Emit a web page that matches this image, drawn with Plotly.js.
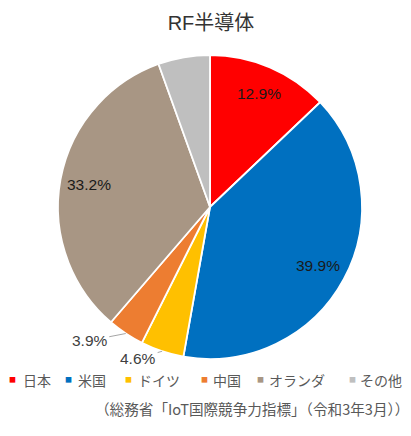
<!DOCTYPE html>
<html>
<head>
<meta charset="utf-8">
<script src="https://cdn.plot.ly/plotly-3.0.1.min.js"></script>
<style>html,body{margin:0;padding:0;background:#fff;}#chart{width:411px;height:436px;}</style>
</head>
<body>
<div id="chart"></div>
<script>
// ---- data ----
const categories = ["日本", "米国", "ドイツ", "中国", "オランダ", "その他"];
const shares = [12.9, 39.9, 4.6, 3.9, 33.2, 5.5];
const shownLabels = ["12.9%", "39.9%", "4.6%", "3.9%", "33.2%", ""];
const colors = ["#FF0000", "#0070C0", "#FFC000", "#ED7D31", "#A89684", "#BFBFBF"];

// ---- layout constants ----
const W = 411, H = 436;
const CX = 210, CY = 207, R = 152;           // pie centre / radius in px
const LABEL_MODE = ["in", "in", "out", "out", "in", "none"];
const INSIDE_FRAC = 0.81;                     // radial position of inside labels
const OUTSIDE_OFFSET = { 2: [-24, 7], 3: [-36, 7] }; // text offset (px) from slice edge
const LEGEND_Y = 380;
const LEGEND_DOT_X = [12, 68, 128, 204, 260, 352];
const LEGEND_TEXT_X = [21, 76, 136, 211, 267, 358];

const LATIN = "'Liberation Sans', Arial, 'Noto Sans CJK JP', sans-serif";
const CJK = "'Noto Sans CJK JP', 'Liberation Sans', sans-serif";

const px = x => x / W;
const py = y => 1 - y / H;

const trace = {
  type: "pie",
  labels: categories,
  values: shares,
  textinfo: "none",
  sort: false,
  direction: "clockwise",
  rotation: 0,
  showlegend: false,
  domain: { x: [px(CX - R), px(CX + R)], y: [py(CY + R), py(CY - R)] },
  marker: { colors: colors, line: { color: "#FFFFFF", width: 1.8 } },
  hoverinfo: "none"
};

// data labels placed along each slice's mid angle (computed from the data)
const total = shares.reduce((a, b) => a + b, 0);
const annotations = [];
let cum = 0;
shares.forEach((v, i) => {
  const mid = (cum + v / 2) / total * 2 * Math.PI;
  cum += v;
  const mode = LABEL_MODE[i];
  if (mode === "in") {
    annotations.push({
      text: shownLabels[i], showarrow: false,
      xref: "paper", yref: "paper",
      x: px(CX + INSIDE_FRAC * R * Math.sin(mid)),
      y: py(CY - INSIDE_FRAC * R * Math.cos(mid)),
      xanchor: "center", yanchor: "middle",
      font: { family: LATIN, size: 15.5, color: "#1A1A1A" }
    });
  } else if (mode === "out") {
    const off = OUTSIDE_OFFSET[i];
    annotations.push({
      text: shownLabels[i],
      xref: "paper", yref: "paper",
      x: px(CX + R * Math.sin(mid)),
      y: py(CY - R * Math.cos(mid)),
      showarrow: true, arrowhead: 0, arrowwidth: 1, arrowcolor: "#A6A6A6",
      standoff: 0, startstandoff: 0,
      ax: off[0], ay: off[1],
      font: { family: LATIN, size: 15.5, color: "#404040" }
    });
  }
});

// legend (small square markers + names)
categories.forEach((c, i) => {
  annotations.push({
    text: "■", showarrow: false, xref: "paper", yref: "paper",
    x: px(LEGEND_DOT_X[i]), y: py(LEGEND_Y - 1), xanchor: "center", yanchor: "middle",
    font: { family: CJK, size: 7, color: colors[i] }
  });
  annotations.push({
    text: c, showarrow: false, xref: "paper", yref: "paper",
    x: px(LEGEND_TEXT_X[i]), y: py(LEGEND_Y), xanchor: "left", yanchor: "middle",
    font: { family: CJK, size: 14, color: "#595959" }
  });
});

// source note
annotations.push({
  text: "（総務省「IoT国際競争力指標」（令和3年3月））",
  showarrow: false, xref: "paper", yref: "paper",
  x: px(411), y: py(408), xanchor: "right", yanchor: "middle",
  font: { family: CJK, size: 14.6, color: "#595959" }
});

const layout = {
  width: W,
  height: H,
  margin: { l: 0, r: 0, t: 0, b: 0 },
  paper_bgcolor: "#FFFFFF",
  showlegend: false,
  title: {
    text: "RF半導体",
    font: { family: LATIN, size: 20, color: "#333333" },
    x: px(211), xanchor: "center", xref: "paper",
    y: py(23), yanchor: "middle", yref: "container"
  },
  annotations: annotations
};

Plotly.newPlot("chart", [trace], layout, { displayModeBar: false, staticPlot: true });
</script>
</body>
</html>
